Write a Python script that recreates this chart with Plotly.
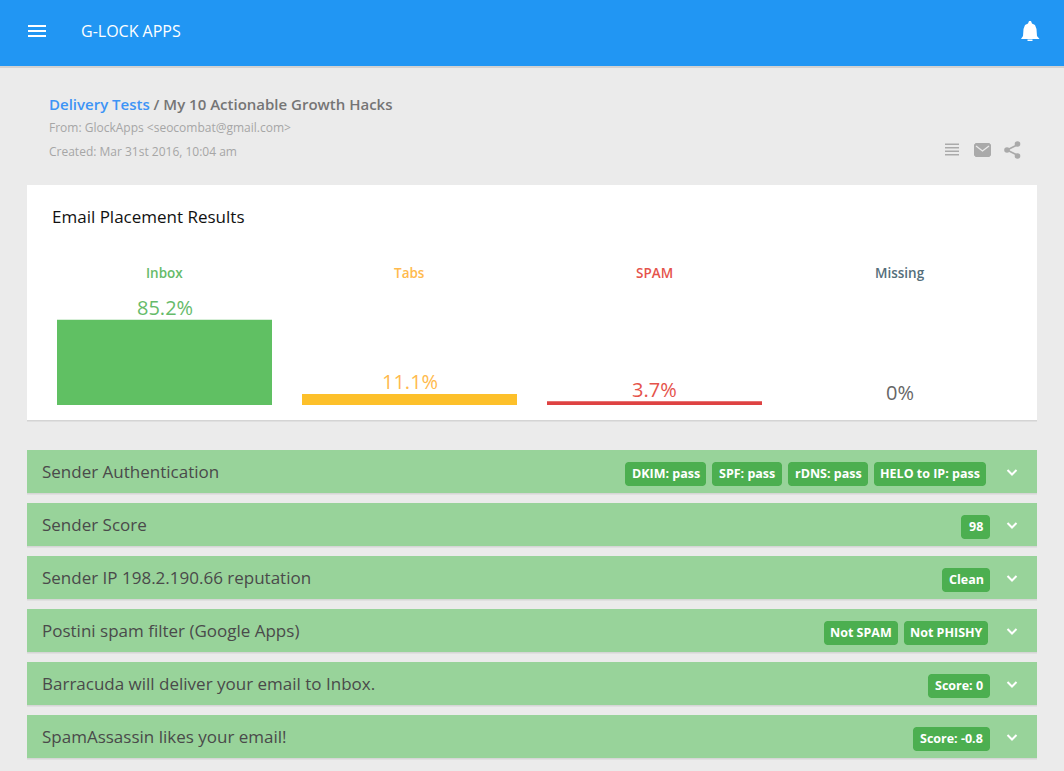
# Email placement results panel (G-Lock Apps delivery test)

import plotly.graph_objects as go

W, H = 1064, 771

# Chart data
categories = ['Inbox', 'Tabs', 'SPAM', 'Missing']
placement = [85.2, 11.1, 3.7, 0]
placement_labels = ['85.2%', '11.1%', '3.7%', '0%']
bar_colors = ['#60c063', '#fdc02a', '#de4242', '#777777']
label_colors = ['#66bb6a', '#ffba4d', '#e5534b', '#546e7a']
value_colors = ['#66bb6a', '#ffba4d', '#e5534b', '#666666']

# Result rows under the chart
row_titles = [
    'Sender Authentication',
    'Sender Score',
    'Sender IP 198.2.190.66 reputation',
    'Postini spam filter (Google Apps)',
    'Barracuda will deliver your email to Inbox.',
    'SpamAssassin likes your email!',
]
row_badges = [
    ['DKIM: pass', 'SPF: pass', 'rDNS: pass', 'HELO to IP: pass'],
    ['98'],
    ['Clean'],
    ['Not SPAM', 'Not PHISHY'],
    ['Score: 0'],
    ['Score: -0.8'],
]

# Page layout, in pixels
row_tops = [450, 503, 556, 609, 662, 715]
badge_spans = [
    [(625, 706), (712, 782), (788, 868), (874, 986)],
    [(961, 990)],
    [(942, 990)],
    [(824, 898), (904, 988)],
    [(928, 990)],
    [(913, 990)],
]


def px(x):
    return x / W


def py(y):
    return 1 - y / H


def box(x0, y0, x1, y1, color):
    return dict(type='rect', xref='paper', yref='paper', layer='below',
                x0=px(x0), x1=px(x1), y0=py(y0), y1=py(y1),
                fillcolor=color, line_width=0)


def path(points, fill=None, line=None, width=0, close=True):
    d = 'M' + ' L'.join(f'{px(x):.5f},{py(y):.5f}' for x, y in points)
    if close:
        d += ' Z'
    return dict(type='path', xref='paper', yref='paper', layer='below', path=d,
                fillcolor=fill if fill else 'rgba(0,0,0,0)',
                line=dict(color=line if line else 'rgba(0,0,0,0)', width=width))


def rounded(x0, y0, x1, y1, r, color):
    pts = [(x0 + r, y0), (x1 - r, y0), (x1 - 1, y0 + 1), (x1, y0 + r),
           (x1, y1 - r), (x1 - 1, y1 - 1), (x1 - r, y1), (x0 + r, y1),
           (x0 + 1, y1 - 1), (x0, y1 - r), (x0, y0 + r), (x0 + 1, y0 + 1)]
    return path(pts, fill=color)


def label(x, y, text, size, color, anchor='left', weight=None, family='Open Sans'):
    # annotations carry a small padding, so left aligned text is pulled back
    if anchor == 'left':
        x -= 2
    return dict(x=px(x), y=py(y), xref='paper', yref='paper', text=text,
                showarrow=False, xanchor=anchor, yanchor='middle',
                font=dict(family=family, size=size, color=color,
                          weight=weight if weight else 400))


shapes = [
    box(0, 66, W, 68, '#d2d2d2'),
    box(0, 0, W, 66, '#2196f3'),
    box(27, 420, 1037, 421.5, '#d4d4d4'),
    box(27, 185, 1037, 420, '#ffffff'),
]

# menu icon
for y in [26, 31, 36]:
    shapes.append(box(28, y - 1, 46, y + 1, '#ffffff'))

# bell icon
shapes.append(path([(1021, 39), (1023, 36), (1023.5, 29), (1025, 25), (1028, 23.5),
                    (1029, 21), (1031, 21), (1032, 23.5), (1035, 25), (1036.5, 29),
                    (1037, 36), (1039.5, 39)], fill='#ffffff'))
shapes.append(box(1027.5, 39.5, 1032.5, 41, '#ffffff'))

# list, mail and share icons
for y in [144.5, 148, 151.5, 155]:
    shapes.append(box(945, y - 1, 959, y + 0.5, '#aaaaaa'))
shapes.append(rounded(974, 143, 991, 157, 1.5, '#aaaaaa'))
shapes.append(path([(976, 146), (982.5, 151), (989, 146)], line='#ebebeb', width=1.3, close=False))
shapes.append(path([(1018, 144.5), (1007, 150), (1018, 155.5)], line='#aaaaaa', width=1.6, close=False))
for cx, cy, r in [(1017.5, 144, 2.8), (1007, 150, 2.8), (1017.5, 156, 2.8)]:
    shapes.append(dict(type='circle', xref='paper', yref='paper', layer='below',
                       x0=px(cx - r), x1=px(cx + r), y0=py(cy - r), y1=py(cy + r),
                       fillcolor='#aaaaaa', line_width=0))

annotations = [
    label(81, 31, 'G-LOCK APPS', 16, '#ffffff', weight=500),
    label(49, 104.5,
          "<span style='color:#3d94f6'>Delivery Tests</span> / My 10 Actionable Growth Hacks",
          15, '#757575', weight=600),
    label(49, 128, 'From: GlockApps &lt;seocombat@gmail.com&gt;', 12, '#a6a6a6'),
    label(49, 152, 'Created: Mar 31st 2016, 10:04 am', 12, '#a6a6a6'),
    label(52, 216, 'Email Placement Results', 17, '#111111'),
]

# category headings and values sit on the same axes as the bars
for cat, val, text, col, vcol in zip(categories, placement, placement_labels,
                                     label_colors, value_colors):
    annotations.append(dict(x=cat, y=py(273), xref='x', yref='paper', text=cat,
                            showarrow=False, xanchor='center', yanchor='middle',
                            font=dict(family='Open Sans', size=13.5, color=col, weight=600)))
    annotations.append(dict(x=cat, y=val, xref='x', yref='y', text=text,
                            showarrow=False, xanchor='center', yanchor='middle', yshift=12,
                            font=dict(family='Open Sans', size=20, color=vcol)))

for top, title, badges, spans in zip(row_tops, row_titles, row_badges, badge_spans):
    shapes.append(box(27, top + 43, 1037, top + 44.5, '#d6d6d6'))
    shapes.append(box(27, top, 1037, top + 43, '#98d39a'))
    annotations.append(label(42, top + 21.5, title, 17, '#4a4a4a'))
    for text, (x0, x1) in zip(badges, spans):
        shapes.append(rounded(x0, top + 12, x1, top + 36, 3, '#4caf50'))
        annotations.append(label((x0 + x1) / 2, top + 23, text, 12.5, '#ffffff',
                                 anchor='center', weight=700))
    # chevron
    shapes.append(path([(1007.5, top + 20), (1012, top + 24.5), (1016.5, top + 20)],
                       line='#ffffff', width=2, close=False))

fig = go.Figure()
fig.add_trace(go.Bar(
    x=categories, y=placement,
    width=215 / 245,
    marker=dict(color=bar_colors, line_width=0),
    hoverinfo='skip',
))
fig.update_layout(
    width=W, height=H,
    margin=dict(l=0, r=0, t=0, b=0),
    paper_bgcolor='#ebebeb',
    plot_bgcolor='rgba(0,0,0,0)',
    showlegend=False,
    shapes=shapes,
    annotations=annotations,
    xaxis=dict(domain=[px(42), px(1022)], range=[-0.5, 3.5], type='category',
               visible=False, fixedrange=True),
    yaxis=dict(domain=[py(405), py(305)], range=[0, 100], visible=False, fixedrange=True),
)

fig.write_html("out.html", config={'displayModeBar': False},
               post_script="document.body.style.margin='0';document.body.style.overflow='hidden';")
